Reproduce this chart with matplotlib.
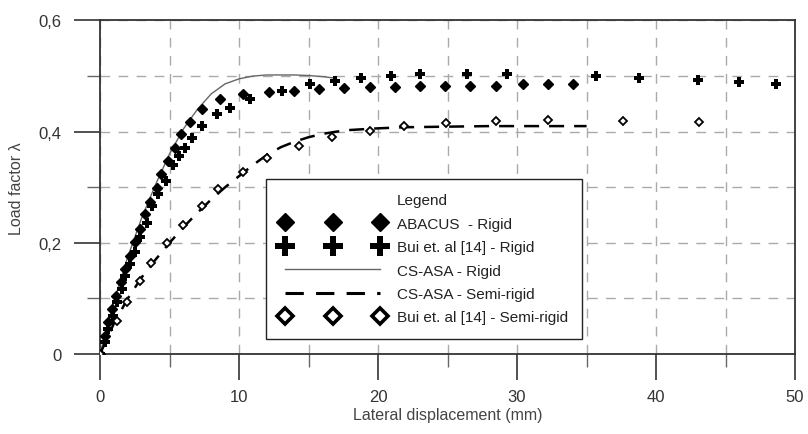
import matplotlib
matplotlib.use("Agg")
import matplotlib.pyplot as plt
from matplotlib.lines import Line2D
from matplotlib.ticker import FuncFormatter, MultipleLocator

plt.rcParams['font.family'] = ['Liberation Sans', 'DejaVu Sans']

# ABACUS - Rigid (filled diamonds)
abacus_x = [0, 0.36, 0.6, 0.84, 1.15, 1.49, 1.8, 2.16, 2.52, 2.88, 3.24, 3.6, 4.08,
            4.39, 4.9, 5.4, 5.8, 6.47, 7.31, 8.63, 10.3, 12.16, 13.98, 15.76, 17.55,
            19.42, 21.2, 23.0, 24.8, 26.6, 28.5, 30.4, 32.2, 34.0]
abacus_y = [0, 0.033, 0.057, 0.081, 0.105, 0.129, 0.153, 0.177, 0.201, 0.225, 0.251,
            0.274, 0.299, 0.323, 0.347, 0.371, 0.395, 0.417, 0.440, 0.458, 0.467, 0.472,
            0.473, 0.477, 0.479, 0.481, 0.481, 0.483, 0.483, 0.483, 0.483, 0.485, 0.485,
            0.485]

# Bui et al [14] - Rigid (crosses)
bui_r_x = [0, 0.36, 0.6, 0.96, 1.25, 1.56, 1.8, 2.16, 2.52, 2.88, 3.36, 3.72, 4.2,
           4.75, 5.23, 5.7, 6.12, 6.6, 7.31, 8.4, 9.35, 10.8, 13.07, 15.1, 16.9, 18.8,
           20.9, 23.0, 26.4, 29.3, 35.7, 38.8, 43.0, 46.0, 48.6]
bui_r_y = [0, 0.021, 0.045, 0.069, 0.093, 0.117, 0.141, 0.162, 0.183, 0.210, 0.236,
           0.266, 0.287, 0.311, 0.340, 0.356, 0.371, 0.389, 0.410, 0.431, 0.443, 0.459,
           0.473, 0.485, 0.491, 0.497, 0.500, 0.503, 0.503, 0.503, 0.500, 0.496, 0.493,
           0.489, 0.485]

# CS-ASA - Rigid (solid line)
cs_r_x = [0, 1, 2, 3, 4, 5, 6, 7, 8, 9, 10, 11, 12, 13, 14, 15, 16, 17]
cs_r_y = [0, 0.095, 0.175, 0.245, 0.305, 0.360, 0.405, 0.440, 0.468, 0.486, 0.495,
          0.500, 0.502, 0.502, 0.502, 0.501, 0.499, 0.496]

# CS-ASA - Semi-rigid (dashed line)
cs_s_x = [0, 1, 2, 3, 4, 5, 6, 7, 8, 9, 10, 11, 12, 13, 14, 15, 16, 17, 18, 20, 22,
          25, 28, 31, 35]
cs_s_y = [0, 0.055, 0.100, 0.138, 0.170, 0.200, 0.228, 0.254, 0.278, 0.300, 0.320,
          0.340, 0.358, 0.372, 0.382, 0.390, 0.396, 0.400, 0.403, 0.406, 0.408, 0.409,
          0.410, 0.410, 0.410]

# Bui et al [14] - Semi-rigid (open diamonds)
bui_s_x = [0, 1.2, 1.92, 2.88, 3.67, 4.84, 6.0, 7.31, 8.5, 10.3, 12.0, 14.3, 16.7,
           19.4, 21.9, 24.9, 28.5, 32.2, 37.6, 43.1]
bui_s_y = [0, 0.060, 0.093, 0.132, 0.163, 0.199, 0.232, 0.266, 0.296, 0.327, 0.353,
           0.374, 0.390, 0.402, 0.410, 0.416, 0.419, 0.421, 0.420, 0.417]

labels = ['ABACUS  - Rigid', 'Bui et. al [14] - Rigid', 'CS-ASA - Rigid',
          'CS-ASA - Semi-rigid', 'Bui et. al [14] - Semi-rigid']

fig = plt.figure(figsize=(8.08, 4.35), dpi=100)
ax = fig.add_axes([0.1238, 0.1839, 0.984 - 0.1238, 0.9506 - 0.1839])

dash_style = (0, (6, 4))
ax.plot(cs_r_x, cs_r_y, color='#666666', lw=1.0, zorder=3)
ax.plot(cs_s_x, cs_s_y, color='black', lw=1.8, linestyle=dash_style, zorder=3)
ax.plot(abacus_x, abacus_y, linestyle='none', marker='D', ms=5, color='black', zorder=4)
ax.plot(bui_r_x, bui_r_y, linestyle='none', marker='P', ms=7, color='black',
        markeredgewidth=0, zorder=4)
ax.plot(bui_s_x, bui_s_y, linestyle='none', marker='D', ms=4.5, markerfacecolor='white',
        markeredgecolor='black', markeredgewidth=1.3, zorder=4)

ax.set_xlim(0, 50)
ax.set_ylim(0, 0.6)
ax.xaxis.set_major_locator(MultipleLocator(10))
ax.xaxis.set_minor_locator(MultipleLocator(5))
ax.yaxis.set_major_locator(MultipleLocator(0.2))
ax.yaxis.set_minor_locator(MultipleLocator(0.1))

fmt = FuncFormatter(lambda v, p: '0' if abs(v) < 1e-9 else f'{v:g}'.replace('.', ','))
ax.xaxis.set_major_formatter(fmt)
ax.yaxis.set_major_formatter(fmt)

ax.grid(True, which='both', color='#aaaaaa', lw=1.0, linestyle=(0, (7, 6)), zorder=0)
ax.set_axisbelow(True)

ax.tick_params(which='major', direction='out', length=19, width=1.2, color='#333333',
               labelsize=12, labelcolor='#333333')
ax.tick_params(which='minor', direction='out', length=9.5, width=1.0, color='#666666')
ax.tick_params(axis='y', which='major', pad=9)
ax.tick_params(axis='x', which='major', pad=6)

for s in ax.spines.values():
    s.set_color('#333333')
    s.set_linewidth(1.3)

ax.set_xlabel('Lateral displacement (mm)', fontsize=11.5, color='#444444', labelpad=2)
ax.set_ylabel('Load factor λ', fontsize=11.5, color='#444444', labelpad=10)

handles = [
    Line2D([], [], linestyle='none'),
    Line2D([], [], linestyle='none', marker='D', ms=9.5, color='black'),
    Line2D([], [], linestyle='none', marker='P', ms=14, color='black', markeredgewidth=0),
    Line2D([], [], color='#666666', lw=1.0),
    Line2D([], [], color='black', lw=2.2, linestyle=dash_style),
    Line2D([], [], linestyle='none', marker='D', ms=8, markerfacecolor='white',
           markeredgecolor='black', markeredgewidth=2.6),
]
leg = ax.legend(handles, ['Legend'] + labels, loc='lower left',
                bbox_to_anchor=(0.239, 0.045), numpoints=3, fontsize=11,
                handlelength=6.8, handletextpad=0.8, labelspacing=0.62,
                borderpad=0.95, borderaxespad=0, fancybox=False, framealpha=1,
                edgecolor='#222222')
leg.get_frame().set_linewidth(1.0)
for t in leg.get_texts():
    t.set_color('#222222')

fig.savefig('out.png', dpi=100)
